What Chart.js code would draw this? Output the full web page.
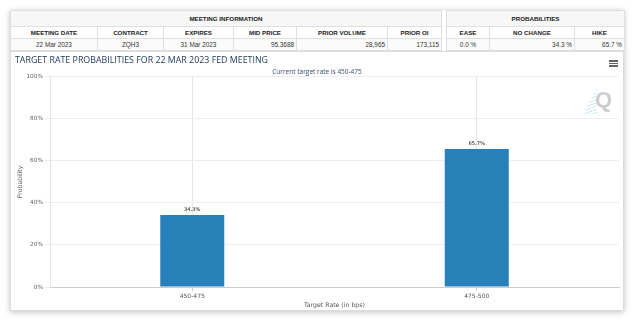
<!DOCTYPE html>
<html>
<head>
<meta charset="utf-8">
<script src="https://cdn.jsdelivr.net/npm/chart.js@4.4.0/dist/chart.umd.min.js"></script>
<style>
  body { margin: 0; background: #fff; width: 634px; height: 322px; overflow: hidden; font-family: "Liberation Sans", Arial, sans-serif; }
  .card { position: absolute; left: 10px; top: 10px; width: 614px; height: 301px; background: #fff; box-shadow: 0 1px 6px rgba(0, 0, 0, 0.25); }
  table { position: absolute; top: 0; border-collapse: collapse; table-layout: fixed; color: #222; }
  td { border: 1px solid #dfdfdf; padding: 0 2px; white-space: nowrap; overflow: hidden; box-sizing: border-box; }
  .group td { height: 16px; background: #f7f7f7; font-weight: bold; font-size: 6.2px; text-align: center; }
  .head td { height: 12px; font-weight: bold; font-size: 6.2px; text-align: center; }
  .vals td { height: 12px; font-size: 6.4px; color: #333; background: #fbfbfb; }
  .panel { position: absolute; left: 0; top: 41px; width: 614px; height: 260px; border: 1px solid #dcdcdc; box-sizing: border-box; }
  #chart { position: absolute; left: 1px; top: 42px; }
  .menu { position: absolute; left: 599px; top: 50px; width: 9px; }
  .menu span { display: block; height: 1.5px; background: #666; margin-bottom: 1px; }
  .logo { position: absolute; left: 585px; top: 79px; font: bold 22px "Liberation Sans", Arial, sans-serif; line-height: 22px; color: #cdcdcd; }
  .streak { position: absolute; left: 573px; top: 78px; width: 14px; height: 26px; background: repeating-linear-gradient(160deg, #d3ebf8 0 1px, transparent 1px 3px); clip-path: polygon(100% 0, 100% 100%, 0 100%); }
</style>
</head>
<body>
<div class="card">
  <table id="info" style="left:0; width:431px;"></table>
  <table id="probs" style="left:436px; width:178px;"></table>
  <div class="panel"></div>
  <canvas id="chart" width="611" height="259"></canvas>
  <div class="menu"><span></span><span></span><span></span></div>
  <div class="streak"></div>
  <div class="logo">Q</div>
</div>
<script>
// table data
var infoHeaders = ["MEETING DATE", "CONTRACT", "EXPIRES", "MID PRICE", "PRIOR VOLUME", "PRIOR OI"];
var infoValues = ["22 Mar 2023", "ZQH3", "31 Mar 2023", "95.3688", "28,965", "173,115"];
var infoWidths = [87, 66, 70, 63, 91, 54];
var infoAlign = ["center", "center", "center", "right", "right", "right"];
var probHeaders = ["EASE", "NO CHANGE", "HIKE"];
var probValues = ["0.0 %", "34.3 %", "65.7 %"];
var probWidths = [43, 85, 50];
var probAlign = ["center", "right", "right"];

// chart data
var rates = ["450-475", "475-500"];
var probabilities = [34.3, 65.7];
var yTicks = [0, 20, 40, 60, 80, 100];

function buildTable(id, title, headers, values, widths, align) {
  var html = "<colgroup>";
  widths.forEach(function (w) { html += '<col style="width:' + w + 'px">'; });
  html += "</colgroup>";
  html += '<tr class="group"><td colspan="' + headers.length + '">' + title + "</td></tr>";
  html += '<tr class="head">';
  headers.forEach(function (h) { html += "<td>" + h + "</td>"; });
  html += '</tr><tr class="vals">';
  values.forEach(function (v, i) { html += '<td style="text-align:' + align[i] + '">' + v + "</td>"; });
  html += "</tr>";
  document.getElementById(id).innerHTML = html;
}

buildTable("info", "MEETING INFORMATION", infoHeaders, infoValues, infoWidths, infoAlign);
buildTable("probs", "PROBABILITIES", probHeaders, probValues, probWidths, probAlign);

// value labels above the bars
var barLabels = {
  id: "barLabels",
  afterDatasetsDraw: function (chart) {
    var ctx = chart.ctx;
    var meta = chart.getDatasetMeta(0);
    ctx.save();
    ctx.font = "5.2px 'DejaVu Sans'";
    ctx.fillStyle = "#111";
    ctx.textAlign = "center";
    ctx.textBaseline = "alphabetic";
    meta.data.forEach(function (bar, i) {
      ctx.fillText(probabilities[i].toFixed(1) + "%", bar.x, bar.y - 4);
    });
    ctx.restore();
  }
};

var tickFont = { family: "DejaVu Sans", size: 5.8 };
var axisFont = { family: "DejaVu Sans", size: 6.2 };

new Chart(document.getElementById("chart").getContext("2d"), {
  type: "bar",
  data: {
    labels: rates,
    datasets: [
      {
        data: probabilities,
        backgroundColor: "#2980b9",
        categoryPercentage: 1,
        barPercentage: 0.225,
      },
    ],
  },
  options: {
    responsive: false,
    animation: false,
    layout: { padding: { left: 4, right: 3, top: 0, bottom: 0 } },
    plugins: {
      legend: { display: false },
      tooltip: { enabled: false },
      title: {
        display: true,
        text: "TARGET RATE PROBABILITIES FOR 22 MAR 2023 FED MEETING",
        align: "start",
        color: "#253a5e",
        font: { family: "Open Sans", size: 8.85, weight: "normal" },
        padding: { top: 3, bottom: 3 },
      },
      subtitle: {
        display: true,
        text: "Current target rate is 450-475",
        color: "#3c4a6e",
        font: { family: "Open Sans", size: 6.5 },
        padding: { top: 0, bottom: 0.4 },
      },
    },
    scales: {
      x: {
        afterFit: function (s) { s.height = 24; },
        border: { color: "#cccccc" },
        grid: { offset: false, color: "#e6e6e6", tickColor: "#cccccc", tickLength: 4 },
        ticks: { padding: 1.5, color: "#555", font: { family: "DejaVu Sans", size: 6 } },
        title: { display: true, text: "Target Rate (in bps)", color: "#555", font: axisFont, padding: { top: 0, bottom: 1.5 } },
      },
      y: {
        min: 0,
        max: 100,
        afterFit: function (s) { s.width = 35; },
        afterBuildTicks: function (s) {
          s.ticks = yTicks.map(function (v) { return { value: v }; });
        },
        border: { display: true, color: "#e6e6e6" },
        grid: { color: "#eeeeee", tickLength: 5 },
        ticks: {
          padding: 2,
          color: "#666",
          font: tickFont,
          callback: function (v) { return v + "%"; },
        },
        title: { display: true, text: "Probability", color: "#666", font: axisFont, padding: { top: 1.5, bottom: 0 } },
      },
    },
  },
  plugins: [barLabels],
});
</script>
</body>
</html>
